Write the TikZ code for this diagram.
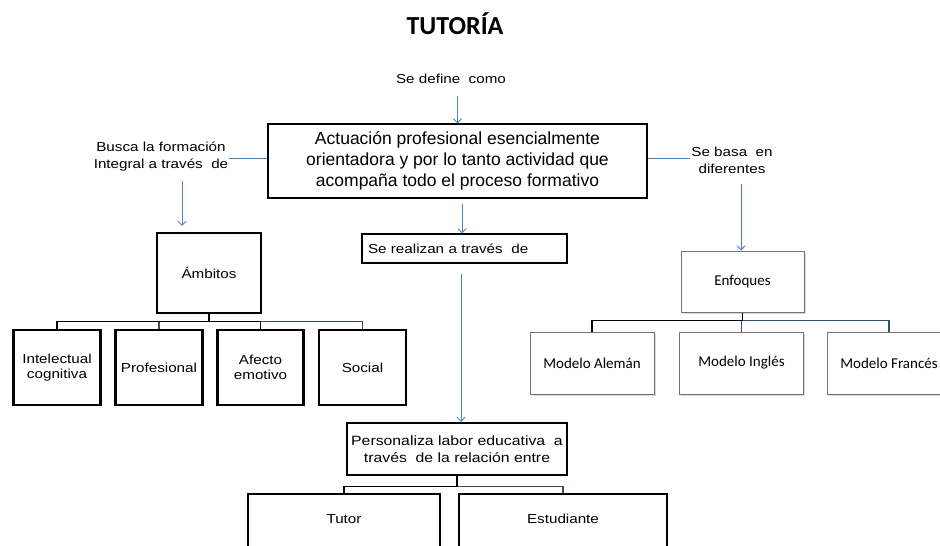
\documentclass[tikz,border=0pt]{standalone}
\usepackage{fontspec}
\setmainfont{Liberation Sans}
\newfontfamily\widefont[FakeStretch=1.17]{Liberation Sans}
\newfontfamily\calibfont{Carlito}
\usetikzlibrary{arrows.meta, shadows}

\definecolor{arrowblue}{HTML}{4F81BD}
\definecolor{treeblue}{HTML}{34506F}

\tikzset{
  lbl/.style={align=center, inner sep=1pt, font=\widefont\fontsize{13}{17}\selectfont},
  mainbox/.style={draw, line width=1.4pt, align=center, inner sep=2pt,
    minimum width=379pt, minimum height=74pt, font=\fontsize{17.5}{21}\selectfont},
  thickbox/.style={draw, line width=2.4pt, align=center, inner sep=2pt,
    font=\widefont\fontsize{13}{15}\selectfont, fill=white,
    drop shadow={shadow xshift=1pt, shadow yshift=-1pt, opacity=0.25}},
  softbox/.style={draw=black!55, line width=1pt, align=center, fill=white,
    font=\calibfont\fontsize{15}{17}\selectfont,
    drop shadow={shadow xshift=1.5pt, shadow yshift=-1.5pt, opacity=0.3}},
  arr/.style={draw=arrowblue, line width=0.9pt, -{Straight Barb[length=4pt, width=8pt]}},
  branch/.style={line width=1.2pt},
  bluebranch/.style={line width=1.2pt, draw=treeblue}
}

\begin{document}
\begin{tikzpicture}[x=1pt, y=-1pt]
  \useasboundingbox (0,0) rectangle (940,546);

  % Title
  \node[font=\calibfont\bfseries\fontsize{26}{30}\selectfont] (title) at (455,24) {TUTORÍA};

  % Central concept
  \node[lbl] (define) at (451,79) {Se define \ como};
  \node[mainbox] (main) at (457.5,161) {Actuación profesional esencialmente\\
    orientadora y por lo tanto actividad que\\ acompaña todo el proceso formativo};
  \draw[arr] (define.south -| main.north) ++(0,11) -- (main.north);

  % Left branch: ambitos
  \node[lbl] (busca) at (161,157) {Busca la formación\\ Integral a través \ de};
  \draw[draw=arrowblue, line width=0.9pt] (main.west |- 0,158) -- (busca.east |- 0,158);
  \node[thickbox, minimum width=104pt, minimum height=80pt] (ambitos) at (209,273) {Ámbitos};
  \draw[arr, shorten >=6pt] (busca.south -| 182,0) ++(0,8) -- (ambitos.north -| 182,0);

  \node[thickbox, minimum width=87pt, minimum height=75pt] (intel) at (57,367.5) {Intelectual\\ cognitiva};
  \node[thickbox, minimum width=87pt, minimum height=75pt] (profes) at (159,367.5) {Profesional};
  \node[thickbox, minimum width=86pt, minimum height=75pt] (afecto) at (260.5,367.5) {Afecto\\ emotivo};
  \node[thickbox, minimum width=87pt, minimum height=75pt] (social) at (362.5,367.5) {Social};

  \draw[bluebranch] (ambitos.south) -- ++(0,7) -| (social);
  \draw[bluebranch] (ambitos.south) -- ++(0,7) -| (profes);
  \draw[branch] (ambitos.south) -- ++(0,7) -| (afecto);
  \draw[branch] (ambitos.south) -- ++(0,7) -| (intel);

  % Middle branch
  \node[draw, line width=1.4pt, minimum width=205pt, minimum height=29pt, text width=193pt,
    align=left, font=\widefont\fontsize{13}{15}\selectfont] (realizan) at (464.5,248.5) {Se realizan a través \ de};
  \draw[arr] (main.south -| 462,0) ++(0,5) -- (realizan.north -| 462,0);

  \node[thickbox, minimum width=220pt, minimum height=52pt,
    font=\widefont\fontsize{13.5}{17}\selectfont] (personaliza) at (457,449) {Personaliza labor educativa \ a\\ través \ de la relación entre};
  \draw[arr] (realizan.south -| 461,0) ++(0,10) -- (personaliza.north -| 461,0);

  \node[thickbox, minimum width=192pt, minimum height=74pt, text depth=24pt] (tutor) at (344,531) {Tutor};
  \node[thickbox, minimum width=208pt, minimum height=74pt, text depth=24pt] (estudiante) at (563,531) {Estudiante};
  \draw[bluebranch] (personaliza.south) -- ++(0,10) -| (estudiante);
  \draw[branch] (personaliza.south) -- ++(0,10) -| (tutor);

  % Right branch: enfoques
  \node[lbl] (basa) at (732,160) {Se basa \ en\\ diferentes};
  \draw[draw=arrowblue, line width=0.9pt] (main.east |- 0,158) -- (basa.west |- 0,158);
  \node[softbox, minimum width=123pt, minimum height=61pt] (enfoques) at (742.5,281.5) {Enfoques};
  \draw[arr] (basa.south -| 741,0) ++(0,10) -- (enfoques.north -| 741,0);

  \node[softbox, minimum width=124pt, minimum height=62pt] (aleman) at (592,363) {Modelo Alemán};
  \node[softbox, minimum width=124pt, minimum height=62pt] (ingles) at (741.5,363) {Modelo Inglés};
  \node[softbox, minimum width=124pt, minimum height=62pt] (frances) at (889,363) {Modelo Francés};

  \draw[bluebranch] (enfoques.south) -- ++(0,8) -| (frances);
  \draw[bluebranch] (enfoques.south) -- ++(0,8) -| (ingles);
  \draw[branch] (enfoques.south) -- ++(0,8) -| (aleman);
\end{tikzpicture}
\end{document}
